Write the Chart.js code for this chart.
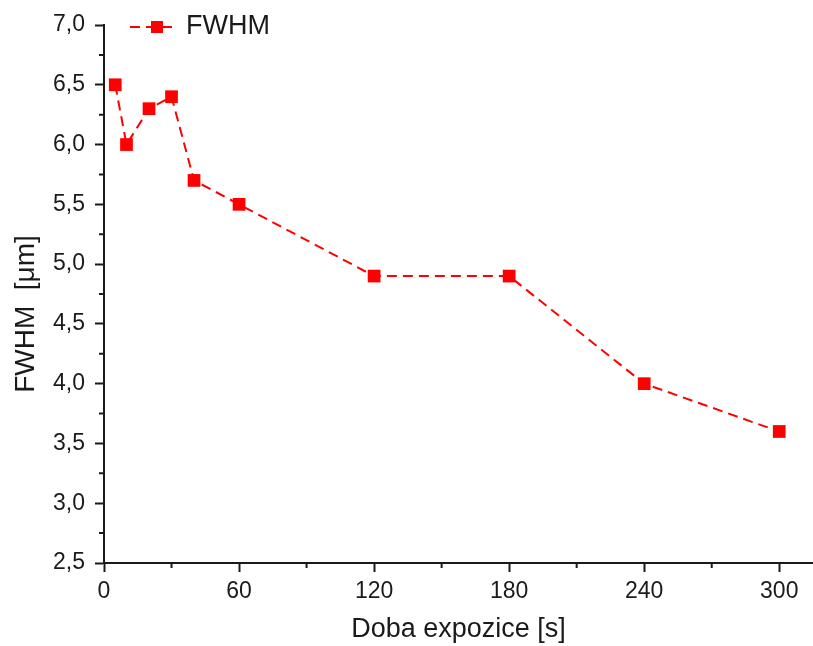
<!DOCTYPE html>
<html lang="cs">
<head>
<meta charset="UTF-8">
<script src="https://cdn.jsdelivr.net/npm/chart.js@4.4.1/dist/chart.umd.min.js"></script>
<title>FWHM</title>
<style>
  html, body { margin: 0; padding: 0; background: #fff; }
  #wrap { width: 813px; height: 646px; }
</style>
</head>
<body>
<div id="wrap"><canvas id="chart" width="813" height="646"></canvas></div>
<script>
// exposure time [s] and measured FWHM [um]
const exposure = [5, 10, 20, 30, 40, 60, 120, 180, 240, 300]
const fwhm = [6.5, 6.0, 6.3, 6.4, 5.7, 5.5, 4.9, 4.9, 4.0, 3.6]
const xTicks = [0, 60, 120, 180, 240, 300]
const yTicks = [2.5, 3.0, 3.5, 4.0, 4.5, 5.0, 5.5, 6.0, 6.5, 7.0]
const seriesName = 'FWHM'
const xTitle = 'Doba expozice [s]'
const yTitle = 'FWHM  [μm]'

const red = '#ff0000'
const ink = '#1a1a1a'
const fontFamily = '"Liberation Sans", Arial, sans-serif'

const points = exposure.map((x, i) => ({ x: x, y: fwhm[i] }))

// minor ticks, y title (sits a bit below centre in the original) and the legend
const extras = {
    id: 'extras',
    afterDraw(chart) {
        const c = chart.ctx
        const xs = chart.scales.x, ys = chart.scales.y
        c.save()
        c.strokeStyle = ink
        c.lineWidth = 2
        c.beginPath()
        for (let i = 0; i < xTicks.length - 1; i++) {
            const px = xs.getPixelForValue((xTicks[i] + xTicks[i + 1]) / 2)
            c.moveTo(px, ys.bottom)
            c.lineTo(px, ys.bottom + 5)
        }
        for (let i = 0; i < yTicks.length - 1; i++) {
            const py = ys.getPixelForValue((yTicks[i] + yTicks[i + 1]) / 2)
            c.moveTo(xs.left, py)
            c.lineTo(xs.left - 5, py)
        }
        c.stroke()

        // y axis title
        c.save()
        c.translate(26, 314)
        c.rotate(-Math.PI / 2)
        c.fillStyle = ink
        c.font = '28px ' + fontFamily
        c.textAlign = 'center'
        c.textBaseline = 'middle'
        c.fillText(yTitle, 0, 0)
        c.restore()

        // legend
        const ly = 27
        c.strokeStyle = red
        c.lineWidth = 2
        c.setLineDash([10, 6])
        c.beginPath()
        c.moveTo(130, ly)
        c.lineTo(178, ly)
        c.stroke()
        c.setLineDash([])
        c.fillStyle = red
        c.fillRect(157 - 6, ly - 6, 12, 12)
        c.fillStyle = ink
        c.font = '27px ' + fontFamily
        c.textBaseline = 'middle'
        c.textAlign = 'left'
        c.fillText(seriesName, 186, ly)
        c.restore()
    }
}

new Chart(document.getElementById('chart'), {
    type: 'line',
    data: {
        datasets: [{
            label: seriesName,
            data: points,
            borderColor: red,
            backgroundColor: red,
            borderWidth: 2,
            borderDash: [10, 6],
            pointStyle: 'rect',
            pointRadius: 9,
            pointBorderWidth: 0,
            tension: 0
        }]
    },
    options: {
        responsive: false,
        animation: false,
        layout: { autoPadding: false, padding: { top: 25, right: 0, left: 0, bottom: 0 } },
        plugins: {
            legend: { display: false },
            tooltip: { enabled: false }
        },
        scales: {
            x: {
                type: 'linear',
                min: 0,
                max: 315,
                afterBuildTicks: s => { s.ticks = xTicks.map(v => ({ value: v })) },
                afterFit: s => { s.height = 83; s.paddingRight = 0 },
                border: { color: ink, width: 2 },
                grid: { drawOnChartArea: false, tickLength: 9, tickWidth: 2, tickColor: ink },
                ticks: {
                    color: ink,
                    padding: 6,
                    maxRotation: 0,
                    font: { family: fontFamily, size: 23 },
                    callback: v => String(v)
                },
                title: {
                    display: true,
                    text: xTitle,
                    color: ink,
                    padding: { top: 0, bottom: 0 },
                    font: { family: fontFamily, size: 27 }
                }
            },
            y: {
                min: 2.5,
                max: 7.0,
                afterBuildTicks: s => { s.ticks = yTicks.map(v => ({ value: v })) },
                afterFit: s => { s.width = 104 },
                border: { color: ink, width: 2 },
                grid: { drawOnChartArea: false, tickLength: 9, tickWidth: 2, tickColor: ink },
                ticks: {
                    color: ink,
                    padding: 10,
                    font: { family: fontFamily, size: 23 },
                    callback: v => v.toFixed(1).replace('.', ',')
                },
                title: { display: false }
            }
        }
    },
    plugins: [extras]
})
</script>
</body>
</html>
